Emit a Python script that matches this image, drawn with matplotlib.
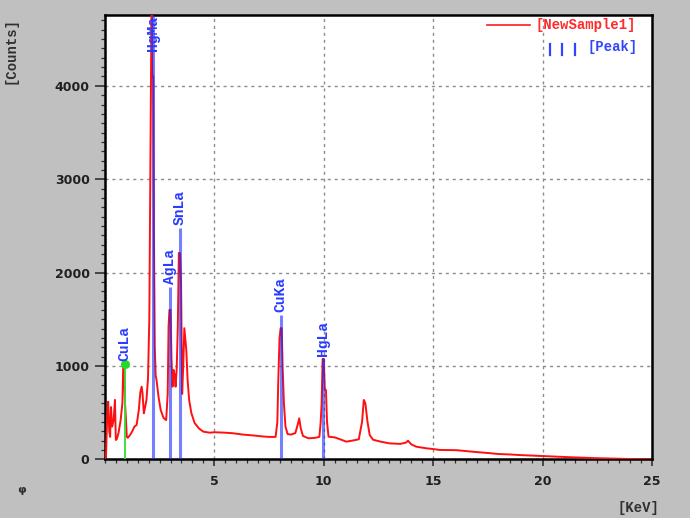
import matplotlib
matplotlib.use('Agg')
import matplotlib.pyplot as plt
from matplotlib.ticker import MultipleLocator, FixedLocator
from matplotlib.lines import Line2D

# ---------------- data ----------------
energy_kev = [0.00, 0.05, 0.10, 0.15, 0.20, 0.24, 0.28, 0.33, 0.40, 0.46, 0.50, 0.55,
              0.62, 0.72, 0.80, 0.84, 0.88, 0.92, 0.96, 1.00, 1.05, 1.15, 1.25, 1.35,
              1.45, 1.55, 1.62, 1.68, 1.72, 1.78, 1.84, 1.90, 1.97, 2.03, 2.07, 2.11,
              2.14, 2.17, 2.21, 2.24, 2.28, 2.32, 2.36, 2.45, 2.55, 2.68, 2.80, 2.87,
              2.91, 2.95, 3.00, 3.04, 3.09, 3.14, 3.19, 3.23, 3.28, 3.33, 3.38, 3.43,
              3.48, 3.53, 3.58, 3.63, 3.67, 3.72, 3.78, 3.85, 3.95, 4.10, 4.30, 4.50,
              4.80, 5.00, 5.50, 5.86, 6.30, 6.80, 7.20, 7.50, 7.80, 7.88, 7.92, 7.98,
              8.03, 8.08, 8.12, 8.18, 8.25, 8.35, 8.50, 8.70, 8.82, 8.88, 8.95, 9.05,
              9.30, 9.60, 9.80, 9.86, 9.90, 9.95, 10.00, 10.05, 10.10, 10.15, 10.22, 10.50,
              10.80, 11.03, 11.30, 11.60, 11.75, 11.83, 11.90, 12.00, 12.10, 12.25, 12.60, 13.00,
              13.50, 13.77, 13.85, 14.00, 14.23, 14.68, 15.00, 15.30, 16.06, 16.82, 17.58, 17.96,
              18.50, 19.00, 20.00, 20.70, 21.40, 22.50, 23.70, 24.90]
counts = [0, 30, 420, 617, 300, 240, 560, 350, 420, 636, 207, 220,
          279, 420, 600, 1010, 1010, 600, 439, 242, 230, 260, 300, 350,
          368, 528, 720, 778, 707, 493, 560, 636, 867, 1500, 2780, 4100,
          5200, 4100, 4100, 2440, 1200, 900, 850, 671, 528, 443, 420, 700,
          1421, 1600, 1600, 1100, 778, 957, 900, 778, 960, 1400, 2210, 2210,
          1886, 700, 1000, 1404, 1300, 1171, 850, 636, 496, 389, 330, 296,
          285, 290, 285, 279, 265, 255, 245, 240, 240, 400, 818, 1300,
          1404, 1404, 993, 600, 350, 270, 265, 280, 380, 439, 330, 250,
          225, 230, 240, 400, 582, 1075, 1075, 743, 743, 400, 242, 235,
          210, 189, 200, 214, 400, 636, 600, 400, 260, 210, 189, 171,
          165, 180, 200, 160, 135, 118, 110, 100, 98, 81, 66, 57,
          52, 45, 35, 28, 21, 12, 5, 0]

peak_names = ['CuLa', 'HgMa', 'AgLa', 'SnLa', 'CuKa', 'HgLa']
peak_energy = [0.90, 2.19, 2.96, 3.42, 8.04, 9.98]
peak_height = [1025, 4760, 1850, 2482, 1547, 1080]

x_ticks = [5, 10, 15, 20, 25]
y_ticks = [0, 1000, 2000, 3000, 4000]
series_label = '[NewSample1]'
peak_label = '[Peak]'
x_label = '[KeV]'
y_label = '[Counts]'

# ---------------- figure ----------------
MONO = 'Liberation Mono'
fig = plt.figure(figsize=(6.9, 5.18), dpi=100, facecolor='#c0c0c0')
ax = fig.add_axes([0.152, 0.1133, 0.793, 0.858])
ax.set_facecolor('white')
ax.set_xlim(0, 25)
ax.set_ylim(0, 4760)

for s in ax.spines.values():
    s.set_linewidth(1.8)
    s.set_color('black')

ax.xaxis.set_major_locator(FixedLocator(x_ticks))
ax.yaxis.set_major_locator(FixedLocator(y_ticks))
ax.xaxis.set_minor_locator(MultipleLocator(0.5))
ax.yaxis.set_minor_locator(MultipleLocator(100))
ax.tick_params(axis='both', which='major', direction='out', color='#303030',
               labelsize=9, labelcolor='#202020', width=1.2)
ax.tick_params(axis='y', which='major', length=7, pad=4)
ax.tick_params(axis='x', which='major', length=5, pad=6)
ax.tick_params(axis='both', which='minor', direction='out', length=3,
               width=0.9, color='#303030')
ax.tick_params(top=False, right=False, which='both')
for lab in ax.get_xticklabels() + ax.get_yticklabels():
    lab.set_fontweight('bold')

ax.grid(True, which='major', color='#8c8c8c', linestyle=(0, (2.2, 2.8)),
        linewidth=1.0)
ax.set_axisbelow(True)

# spectrum
ax.plot(energy_kev, counts, color='#ff1010', linewidth=1.4, zorder=3,
        clip_on=True)

# peak markers
for name, e, h in zip(peak_names, peak_energy, peak_height):
    if name == 'CuLa':
        ax.plot([e, e], [0, h], color='#33dd33', linewidth=1.3, zorder=4)
        ax.plot([e], [h], 'o', color='#22dd22', markersize=5.5, zorder=5)
    else:
        ax.plot([e, e], [0, h], color='#1a2cff', linewidth=2.2, alpha=0.6,
                zorder=4, solid_capstyle='butt')
    if name == 'HgMa':
        ax.text(e, 4745, name, rotation=90, ha='center', va='top',
                family=MONO, fontsize=10.5, fontweight='bold',
                color='#2a3cff', zorder=6)
    else:
        ax.annotate(name, (e, h), xytext=(0, 2), textcoords='offset points',
                    rotation=90, ha='center', va='bottom', family=MONO,
                    fontsize=10.5, fontweight='bold', color='#2a3cff', zorder=6)

# legend (drawn like the instrument software)
W, H = 690.0, 518.0
fig.add_artist(Line2D([487 / W, 530 / W], [1 - 25 / H, 1 - 25 / H],
                      color='#ff1a1a', linewidth=1.2, transform=fig.transFigure))
fig.text(535 / W, 1 - 25 / H, series_label, family=MONO, fontsize=10,
         fontweight='bold', color='#ff2a2a', ha='left', va='center')
for bx in (550, 562, 575):
    fig.add_artist(Line2D([bx / W, bx / W], [1 - 44 / H, 1 - 55 / H],
                          color='#3344ff', linewidth=1.6,
                          transform=fig.transFigure))
fig.text(588 / W, 1 - 47 / H, peak_label, family=MONO, fontsize=10,
         fontweight='bold', color='#3344ff', ha='left', va='center')

# axis titles
fig.text(638 / W, 1 - 508 / H, x_label, family=MONO, fontsize=10,
         fontweight='bold', color='#303030', ha='center', va='center')
fig.text(10 / W, 1 - 50 / H, y_label, family=MONO, fontsize=10,
         fontweight='bold', color='#303030', ha='center', va='center',
         rotation=90)
fig.text(22 / W, 1 - 490 / H, '\u03c6', fontsize=8, fontweight='bold',
         color='#303030', ha='center', va='center')

fig.savefig('out.png', dpi=100, facecolor=fig.get_facecolor())
